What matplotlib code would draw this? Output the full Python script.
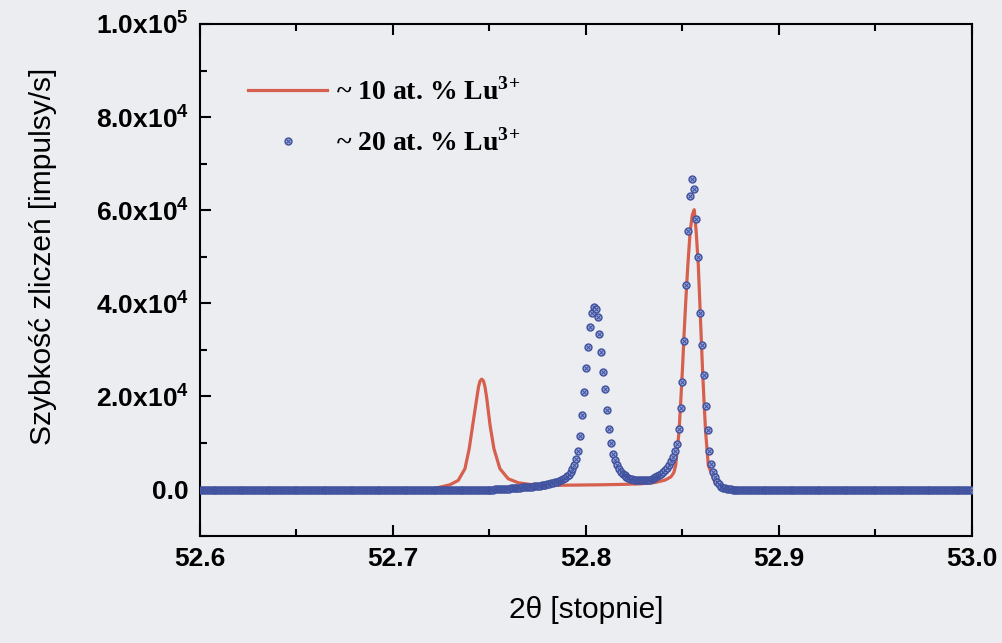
import numpy as np
import matplotlib
matplotlib.use('Agg')
import matplotlib.pyplot as plt
from matplotlib.ticker import FixedLocator, MultipleLocator, FuncFormatter
from matplotlib.legend_handler import HandlerTuple

# ~10 at.% Lu3+ : measured profile (2theta in degrees, counts/s)
RED_2THETA = [52.6000, 52.6518, 52.7036, 52.7192, 52.7244, 52.7295, 52.7338, 52.7373,
              52.7395, 52.7413, 52.7434, 52.7443, 52.7451, 52.7460, 52.7469, 52.7477,
              52.7486, 52.7503, 52.7523, 52.7554, 52.7597, 52.7649, 52.7710, 52.7762,
              52.7865, 52.7969, 52.8073, 52.8176, 52.8280, 52.8358, 52.8409, 52.8440,
              52.8455, 52.8465, 52.8482, 52.8492, 52.8501, 52.8509, 52.8518, 52.8528,
              52.8540, 52.8551, 52.8561, 52.8571, 52.8582, 52.8589, 52.8596, 52.8603,
              52.8611, 52.8620, 52.8634, 52.8668, 52.8720, 52.8798, 52.9109, 52.9627,
              53.0000]
RED_COUNTS = [-100, -100, 0, 0, 500, 1010, 1940, 4460,
              8770, 13790, 19550, 22000, 23300, 23700, 23300, 22000,
              19550, 13790, 8770, 4460, 2300, 1440, 1080, 860,
              900, 950, 1000, 1080, 1200, 1500, 2000, 2700,
              3600, 5170, 12350, 19550, 26720, 33900, 41100, 48270,
              55450, 59000, 60100, 55450, 48270, 41100, 33900, 26720,
              19550, 12350, 5170, 1570, 600, 100, 0, -100,
              -100]

# ~20 at.% Lu3+ : scan points, step 0.001 deg
BLUE_COUNTS_LEFT = [  # 52.600 ... 52.769
    -200, -200, -200, -200, -200, -200, -200, -200, -200, -200, -200, -200, -200, -200,
    -200, -200, -200, -200, -200, -200, -200, -200, -200, -200, -200, -200, -200, -200,
    -200, -200, -200, -200, -200, -200, -200, -200, -200, -200, -200, -200, -200, -200,
    -200, -200, -200, -200, -200, -200, -200, -200, -200, -200, -200, -200, -200, -200,
    -200, -200, -200, -200, -200, -200, -200, -200, -200, -200, -200, -200, -200, -200,
    -200, -200, -200, -200, -200, -200, -200, -200, -200, -200, -200, -200, -200, -200,
    -200, -200, -200, -200, -200, -200, -200, -200, -200, -200, -200, -200, -200, -200,
    -200, -200, -200, -200, -200, -200, -200, -200, -200, -200, -200, -200, -200, -200,
    -200, -200, -200, -200, -200, -200, -200, -200, -200, -200, -200, -200, -200, -200,
    -200, -200, -200, -200, -200, -200, -200, -200, -200, -200, -200, -200, -200, -200,
    -180, -170, -160, -150, -140, -130, -120, -105, -90, -75,
    -60, -40, -20, 5, 30, 55, 80, 110, 140, 170,
    200, 230, 260, 295, 330, 365, 400, 430, 455, 470]
BLUE_COUNTS_PEAKS = [  # 52.770 ... 52.890
    480, 530, 580, 640, 700, 760, 830, 900, 970, 1050,
    1150, 1250, 1350, 1450, 1550, 1700, 1850, 2000, 2200, 2500,
    2800, 3200, 3700, 4400, 5300, 6600, 8300, 11500, 16000, 21000,
    26000, 30500, 34800, 38000, 39300, 38800, 37000, 33500, 29500, 25200,
    21500, 17000, 13000, 10000, 7700, 6300, 5200, 4400, 3800, 3400,
    3000, 2750, 2500, 2300, 2200, 2100, 2050, 2000, 1950, 1950,
    1950, 2000, 2050, 2100, 2250, 2400, 2600, 2800, 3050, 3400,
    3750, 4200, 4700, 5300, 6100, 7000, 8200, 9700, 13000, 17500,
    23000, 32000, 44000, 55500, 63000, 66600, 64500, 58000, 50000, 38000,
    31000, 24500, 18000, 12800, 8300, 5500, 3700, 2600, 1700, 1100,
    600, 400, 250, 150, 50, 0, -50, -80, -100, -120,
    -140, -150, -160, -170, -180, -190, -200, -200, -200, -200,
    -200]
BLUE_COUNTS_RIGHT = [  # 52.891 ... 53.000
    -200, -200, -200, -200, -200, -200, -200, -200, -200, -200, -200,
    -200, -200, -200, -200, -200, -200, -200, -200, -200, -200, -200,
    -200, -200, -200, -200, -200, -200, -200, -200, -200, -200, -200,
    -200, -200, -200, -200, -200, -200, -200, -200, -200, -200, -200,
    -200, -200, -200, -200, -200, -200, -200, -200, -200, -200, -200,
    -200, -200, -200, -200, -200, -200, -200, -200, -200, -200, -200,
    -200, -200, -200, -200, -200, -200, -200, -200, -200, -200, -200,
    -200, -200, -200, -200, -200, -200, -200, -200, -200, -200, -200,
    -200, -200, -200, -200, -200, -200, -200, -200, -200, -200, -200,
    -200, -200, -200, -200, -200, -200, -200, -200, -200, -200, -200]

BLUE_COUNTS = np.array(BLUE_COUNTS_LEFT + BLUE_COUNTS_PEAKS + BLUE_COUNTS_RIGHT)
BLUE_2THETA = np.linspace(52.600, 53.000, len(BLUE_COUNTS))

LABEL_10 = r'~ 10 at. % Lu$^{\mathrm{3}}$$^{\mathrm{+}}$'
LABEL_20 = r'~ 20 at. % Lu$^{\mathrm{3}}$$^{\mathrm{+}}$'
Y_MAJOR = [0, 2e4, 4e4, 6e4, 8e4, 1e5]

BG = '#ecedf1'
RED = '#d65f4e'
BLUE_EDGE = '#3f519f'
BLUE_FACE = '#97a3d4'

plt.rcParams['mathtext.fontset'] = 'custom'
plt.rcParams['mathtext.rm'] = 'Liberation Serif:bold'
plt.rcParams['mathtext.bf'] = 'Liberation Sans:bold'
plt.rcParams['mathtext.default'] = 'bf'
plt.rcParams['font.family'] = ['Liberation Sans', 'DejaVu Sans']


def sci_label(v, pos):
    if v == 0:
        return '0.0'
    e = int(np.floor(np.log10(abs(v)) + 1e-9))
    m = v / 10 ** e
    return f'{m:.1f}x10$^{{{e}}}$'


fig = plt.figure(figsize=(10.02, 6.43), dpi=100, facecolor=BG)
ax = fig.add_axes([0.1996, 0.1664, 0.7704, 0.7963], facecolor=BG)

red_line, = ax.plot(RED_2THETA, RED_COUNTS, color=RED, lw=2.3, zorder=2)
blue_o, = ax.plot(BLUE_2THETA, BLUE_COUNTS, ls='none', marker='o', ms=5,
                  mfc=BLUE_FACE, mec=BLUE_EDGE, mew=1.0, zorder=3)
blue_x, = ax.plot(BLUE_2THETA, BLUE_COUNTS, ls='none', marker='x', ms=2.8,
                  mec=BLUE_EDGE, mew=0.7, zorder=4)

ax.set_xlim(52.6, 53.0)
ax.set_ylim(-1e4, 1e5)
ax.xaxis.set_major_locator(MultipleLocator(0.1))
ax.xaxis.set_minor_locator(MultipleLocator(0.05))
ax.xaxis.set_major_formatter(FuncFormatter(lambda v, p: f'{v:.1f}'))
ax.yaxis.set_major_locator(FixedLocator(Y_MAJOR))
ax.yaxis.set_minor_locator(MultipleLocator(1e4))
ax.yaxis.set_major_formatter(FuncFormatter(sci_label))

ax.tick_params(which='both', direction='in', top=True, right=False, width=1.5,
               color='black')
ax.tick_params(which='major', length=8, labelsize=19, pad=8)
ax.tick_params(which='minor', length=5)
for lab in ax.get_xticklabels() + ax.get_yticklabels():
    lab.set_fontweight('bold')
for sp in ax.spines.values():
    sp.set_linewidth(1.5)

ax.set_xlabel('2θ [stopnie]', fontsize=21.5, labelpad=18)
ax.set_ylabel('Szybkość zliczeń [impulsy/s]', fontsize=21.5)
ax.yaxis.set_label_coords(-0.185, 0.547)

ax.legend([red_line, (blue_o, blue_x)], [LABEL_10, LABEL_20],
          handler_map={tuple: HandlerTuple(ndivide=1)},
          loc='upper left', bbox_to_anchor=(0.03, 0.943), frameon=False,
          prop={'family': 'Liberation Serif', 'weight': 'bold', 'size': 20},
          handlelength=2.85, handletextpad=0.3, labelspacing=0.82)

fig.savefig('out.png', dpi=100, facecolor=BG)
